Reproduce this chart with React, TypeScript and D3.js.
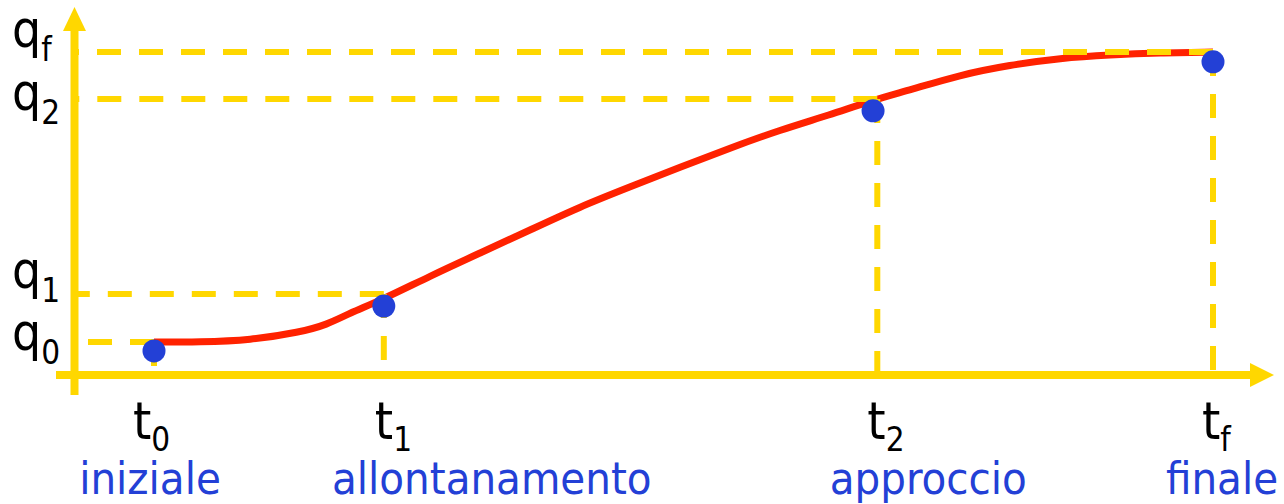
import React from "react";
import * as d3 from "d3";

// ---- data ----
const timeLabels = ["0", "1", "2", "f"];
const timeValues = [0, 2.17, 6.83, 10];
const posLabels = ["0", "1", "2", "f"];
const posValues = [0, 1.655, 8.38, 10];
const phaseNames = ["iniziale", "allontanamento", "approccio", "finale"];
// dots as drawn (slightly below the intersections in the reference)
const dotT = [0, 2.17, 6.79, 10];
const dotQ = [-0.31, 1.24, 7.97, 9.66];
// red trajectory samples
const curveT = [0, 0.43, 0.91, 1.38, 1.63, 1.85, 2.15, 2.61, 3.08, 3.55, 4.02, 4.49, 4.97, 5.44, 5.91, 6.38, 6.79, 7.14, 7.61, 8.08, 8.56, 9.03, 9.5, 10];
const curveQ = [0, 0.0, 0.06, 0.34, 0.59, 1.0, 1.45, 2.28, 3.07, 3.86, 4.66, 5.34, 6.03, 6.69, 7.31, 7.83, 8.34, 8.69, 9.21, 9.55, 9.79, 9.9, 9.97, 10];

const W = 1284;
const H = 504;
const YELLOW = "#FFD700";
const RED = "#FF2200";
const BLUE = "#2340D6";
const FONT = "'DejaVu Sans Condensed', 'DejaVu Sans', sans-serif";

// layout
const axisX = 74.5;
const axisY = 375;
const qLabelShift = [8, -6, 11, -5];
const tLabelShift = [-21, -9, -10, -11];
const phaseShift = [-4, 108, 51, 9];

export default function App() {
  const x = d3.scaleLinear().domain([0, 10]).range([154, 1213]);
  const y = d3.scaleLinear().domain([0, 10]).range([342, 52]);

  const pts: [number, number][] = curveT.map((t, i) => [x(t), y(curveQ[i])]);
  const line = d3.line().curve(d3.curveBasis)(pts) || "";

  return (
    <svg
      width={W}
      height={H}
      style={{ position: "absolute", left: 0, top: 0, background: "#fff" }}
    >
      {/* trajectory */}
      <path d={line} fill="none" stroke={RED} strokeWidth={7} strokeLinecap="butt" />

      {/* horizontal dashed guides (drawn from point toward the axis) */}
      {posValues.map((q, i) => (
        <line
          key={"h" + i}
          x1={x(timeValues[i])}
          x2={axisX}
          y1={y(q)}
          y2={y(q)}
          stroke={YELLOW}
          strokeWidth={6}
          strokeDasharray="24 18"
        />
      ))}
      {/* vertical dashed guides */}
      {timeValues.map((t, i) => (
        <line
          key={"v" + i}
          x1={x(t)}
          x2={x(t)}
          y1={y(posValues[i])}
          y2={axisY}
          stroke={YELLOW}
          strokeWidth={6}
          strokeDasharray="24 18"
        />
      ))}

      {/* axes */}
      <line x1={axisX} x2={axisX} y1={395} y2={28} stroke={YELLOW} strokeWidth={8} />
      <path d={`M${axisX},7 L${axisX + 11.5},31 L${axisX - 11.5},31 Z`} fill={YELLOW} />
      <line x1={56} x2={1253} y1={axisY} y2={axisY} stroke={YELLOW} strokeWidth={8} />
      <path d={`M1274,${axisY} L1250,${axisY - 12} L1250,${axisY + 12} Z`} fill={YELLOW} />

      {/* dots */}
      {dotT.map((t, i) => (
        <circle key={"d" + i} cx={x(t)} cy={y(dotQ[i])} r={11.5} fill={BLUE} />
      ))}

      {/* q labels */}
      {posValues.map((q, i) => (
        <text
          key={"ql" + i}
          x={12}
          y={y(q) + qLabelShift[i]}
          fontFamily={FONT}
          fontSize={51}
          fill="#000"
        >
          q
          <tspan dy={14} fontSize={33}>
            {posLabels[i]}
          </tspan>
        </text>
      ))}

      {/* t labels */}
      {timeValues.map((t, i) => (
        <text
          key={"tl" + i}
          x={x(t) + tLabelShift[i]}
          y={439}
          fontFamily={FONT}
          fontSize={52}
          fill="#000"
        >
          t
          <tspan dy={12} fontSize={33}>
            {timeLabels[i]}
          </tspan>
        </text>
      ))}

      {/* phase names */}
      {timeValues.map((t, i) => (
        <text
          key={"pn" + i}
          x={x(t) + phaseShift[i]}
          y={494}
          textAnchor="middle"
          fontFamily={FONT}
          fontSize={45}
          fill={BLUE}
        >
          {phaseNames[i]}
        </text>
      ))}
    </svg>
  );
}
